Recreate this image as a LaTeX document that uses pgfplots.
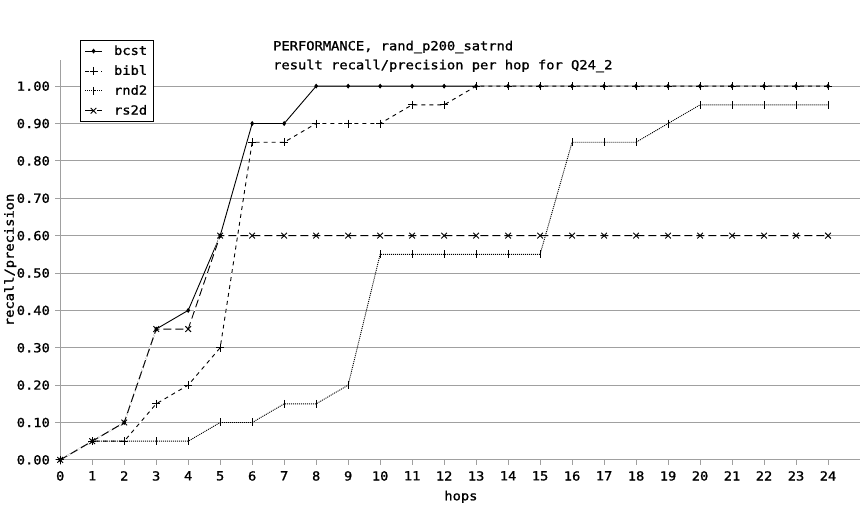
\documentclass[border=0pt]{standalone}
\usepackage{pgfplots}
\pgfplotsset{compat=1.18}
\usepackage{pgfplotstable}
\usepackage{fontspec}
\setmainfont{DejaVu Sans Mono}[FakeStretch=1.1, FakeBold=1.2]
\definecolor{gridgray}{RGB}{160,160,160}

\pgfplotstableread{
x y
0 0
1 0.05
2 0.10
3 0.35
4 0.40
5 0.60
6 0.90
7 0.90
8 1.00
9 1.00
10 1.00
11 1.00
12 1.00
13 1.00
14 1.00
15 1.00
16 1.00
17 1.00
18 1.00
19 1.00
20 1.00
21 1.00
22 1.00
23 1.00
24 1.00
}\bcst
\pgfplotstableread{
x y
0 0
1 0.05
2 0.05
3 0.15
4 0.20
5 0.30
6 0.85
7 0.85
8 0.90
9 0.90
10 0.90
11 0.95
12 0.95
13 1.00
14 1.00
15 1.00
16 1.00
17 1.00
18 1.00
19 1.00
20 1.00
21 1.00
22 1.00
23 1.00
24 1.00
}\bibl
\pgfplotstableread{
x y
0 0
1 0.05
2 0.05
3 0.05
4 0.05
5 0.10
6 0.10
7 0.15
8 0.15
9 0.20
10 0.55
11 0.55
12 0.55
13 0.55
14 0.55
15 0.55
16 0.85
17 0.85
18 0.85
19 0.90
20 0.95
21 0.95
22 0.95
23 0.95
24 0.95
}\rnd
\pgfplotstableread{
x y
0 0
1 0.05
2 0.10
3 0.35
4 0.35
5 0.60
6 0.60
7 0.60
8 0.60
9 0.60
10 0.60
11 0.60
12 0.60
13 0.60
14 0.60
15 0.60
16 0.60
17 0.60
18 0.60
19 0.60
20 0.60
21 0.60
22 0.60
23 0.60
24 0.60
}\rsd

\begin{document}
\fontsize{12.5pt}{14pt}\selectfont
\begin{tikzpicture}
\begin{axis}[
  scale only axis,
  width=800pt, height=400pt,
  xmin=0, xmax=25, ymin=0, ymax=1.07,
  axis lines*=left,
  axis line style={gridgray, line width=1pt},
  xtick={0,...,24},
  ytick={0,0.1,...,1.0},
  tick align=outside,
  major tick length=5pt,
  tick style={gridgray, line width=1pt},
  ymajorgrids,
  grid style={gridgray, line width=1pt},
  /pgf/number format/assume math mode=true,
  yticklabel style={/pgf/number format/fixed, /pgf/number format/fixed zerofill, /pgf/number format/precision=2, xshift=-1pt},
  ticklabel style={font=\fontsize{12.5pt}{14pt}\selectfont},
  xticklabel style={yshift=-2pt},
  xlabel={hops},
  ylabel={recall/precision},
  every axis x label/.style={at={(rel axis cs:0.501,0)}, yshift=-37pt, anchor=center, font=\fontsize{12.5pt}{14pt}\selectfont},
  every axis y label/.style={at={(rel axis cs:0,0.5)}, xshift=-50pt, rotate=90, anchor=center, font=\fontsize{12.5pt}{14pt}\selectfont},
  clip=false,
  legend style={at={(rel axis cs:0.025,1.05)}, anchor=north west, draw=black, line width=0.8pt,
    font=\fontsize{12.5pt}{14pt}\selectfont, inner xsep=4pt, inner ysep=3pt, row sep=4.5pt,
    cells={anchor=west}},
  legend image code/.code={\draw[mark repeat=2,mark phase=2] plot coordinates {(0pt,0pt) (8.5pt,0pt) (17pt,0pt)};
    \path[draw=none] (0pt,0pt) -- (27pt,0pt);},
]
\addplot[black, line width=0.9pt, mark=diamond*, mark size=1.8pt] table {\bcst};
\addlegendentry{bcst}
\addplot[white, line width=1.2pt, forget plot] table {\bibl};
\addplot[black, line width=0.9pt, dash pattern=on 4pt off 4pt, mark=+, mark size=4pt, mark options={solid}] table {\bibl};
\addlegendentry{bibl}
\addplot[black, line width=0.9pt, dash pattern=on 1pt off 1pt, mark=|, mark size=4pt, mark options={solid}] table {\rnd};
\addlegendentry{rnd2}
\addplot[white, line width=1.2pt, forget plot] table {\rsd};
\addplot[black, line width=0.9pt, dash pattern=on 8pt off 4pt, mark=x, mark size=4pt, mark options={solid}] table {\rsd};
\addlegendentry{rs2d}
\node[anchor=west, inner sep=0pt] at (rel axis cs:0.266,1.0325) {PERFORMANCE, rand\_p200\_satrnd};
\node[anchor=west, inner sep=0pt] at (rel axis cs:0.266,0.985) {result recall/precision per hop for Q24\_2};
\end{axis}
\path[use as bounding box] (-60pt,-60pt) rectangle (802pt,460pt);
\end{tikzpicture}
\end{document}
